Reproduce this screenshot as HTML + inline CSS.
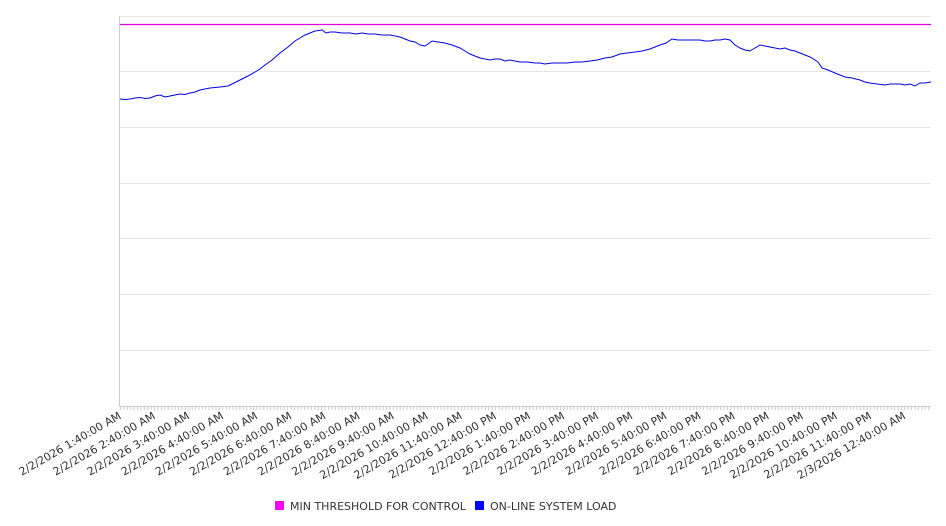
<!DOCTYPE html><html><head><style>body{margin:0;background:#fff}svg{display:block;font-family:"DejaVu Sans","Liberation Sans",sans-serif}</style></head><body>
<svg width="946" height="526" xmlns="http://www.w3.org/2000/svg">
<defs><pattern id="tk" x="120" y="406" width="3.41" height="4" patternUnits="userSpaceOnUse"><rect x="0" y="0" width="1" height="4" fill="#ccc"/></pattern></defs>
<g stroke="#e6e6e6" stroke-width="1">
<line x1="120" y1="16.5" x2="931" y2="16.5"/><line x1="120" y1="71.5" x2="931" y2="71.5"/><line x1="120" y1="127.5" x2="931" y2="127.5"/><line x1="120" y1="183.5" x2="931" y2="183.5"/><line x1="120" y1="238.5" x2="931" y2="238.5"/><line x1="120" y1="294.5" x2="931" y2="294.5"/><line x1="120" y1="350.5" x2="931" y2="350.5"/>
</g>
<line x1="119.5" y1="16" x2="119.5" y2="407" stroke="#ccc"/>
<line x1="120" y1="406.5" x2="931" y2="406.5" stroke="#ccc"/>
<rect x="120" y="406" width="811" height="4" fill="url(#tk)"/>
<line x1="120" y1="24.5" x2="931" y2="24.5" stroke="#e000e0" stroke-width="1.2"/>
<polyline fill="none" stroke="#0000dd" stroke-width="1" points="120,99 125,99.5 130,99 135,98 140,97.5 145,98.5 150,98 155,96 160,95 165,97 170,96 175,95 180,94 185,94.5 190,93 195,92 200,90 205,89 210,88 215,87.5 220,87 228,86 234,83 240,80 248,76 255,72 260,69 265,65 272,60 280,53 288,47 295,41 300,38 305,35 310,33 315,31 322,30 326,33 330,32 335,32 342,33 350,33 356,34 362,33 368,34 375,34 382,35 390,35 395,36 400,37 405,39 410,41 415,42 420,45 425,46 428,44 432,41 438,42 445,43 452,45 460,48 465,51 470,54 475,56 480,58 485,59 490,60 495,59 500,59 505,61 510,60 515,61 520,62 527,62 535,63 540,63 545,64 552,63 560,63 567,63 575,62 582,62 590,61 597,60 605,58 612,57 620,54 627,53 635,52 642,51 650,49 655,47 660,45 666,43 672,39 678,40 685,40 692,40 700,40 705,41 710,41 715,40 720,40 725,39 730,40 735,45 740,48 745,50 750,51 755,48 760,45 765,46 770,47 775,48 780,49 785,48 790,50 795,51 800,53 805,55 810,57 815,60 818,62 822,68 828,70 835,73 840,75 845,77 852,78 860,80 865,82 870,83 877,84 885,85 890,84 895,84 900,84 905,85 910,84 915,86 920,83 925,83 931,82"/>
<g font-size="11" fill="#333" text-anchor="end">
<text transform="translate(122,418) rotate(-30)">2/2/2026 1:40:00 AM</text>
<text transform="translate(156.1,418) rotate(-30)">2/2/2026 2:40:00 AM</text>
<text transform="translate(190.2,418) rotate(-30)">2/2/2026 3:40:00 AM</text>
<text transform="translate(224.3,418) rotate(-30)">2/2/2026 4:40:00 AM</text>
<text transform="translate(258.4,418) rotate(-30)">2/2/2026 5:40:00 AM</text>
<text transform="translate(292.5,418) rotate(-30)">2/2/2026 6:40:00 AM</text>
<text transform="translate(326.6,418) rotate(-30)">2/2/2026 7:40:00 AM</text>
<text transform="translate(360.7,418) rotate(-30)">2/2/2026 8:40:00 AM</text>
<text transform="translate(394.8,418) rotate(-30)">2/2/2026 9:40:00 AM</text>
<text transform="translate(428.9,418) rotate(-30)">2/2/2026 10:40:00 AM</text>
<text transform="translate(463,418) rotate(-30)">2/2/2026 11:40:00 AM</text>
<text transform="translate(497.1,418) rotate(-30)">2/2/2026 12:40:00 PM</text>
<text transform="translate(531.2,418) rotate(-30)">2/2/2026 1:40:00 PM</text>
<text transform="translate(565.3,418) rotate(-30)">2/2/2026 2:40:00 PM</text>
<text transform="translate(599.4,418) rotate(-30)">2/2/2026 3:40:00 PM</text>
<text transform="translate(633.5,418) rotate(-30)">2/2/2026 4:40:00 PM</text>
<text transform="translate(667.6,418) rotate(-30)">2/2/2026 5:40:00 PM</text>
<text transform="translate(701.7,418) rotate(-30)">2/2/2026 6:40:00 PM</text>
<text transform="translate(735.8,418) rotate(-30)">2/2/2026 7:40:00 PM</text>
<text transform="translate(769.9,418) rotate(-30)">2/2/2026 8:40:00 PM</text>
<text transform="translate(804,418) rotate(-30)">2/2/2026 9:40:00 PM</text>
<text transform="translate(838.1,418) rotate(-30)">2/2/2026 10:40:00 PM</text>
<text transform="translate(872.2,418) rotate(-30)">2/2/2026 11:40:00 PM</text>
<text transform="translate(906.3,418) rotate(-30)">2/3/2026 12:40:00 AM</text>
</g>
<rect x="275" y="501" width="9" height="9" fill="#ff00ff"/>
<text x="290" y="510" font-size="11" fill="#333">MIN THRESHOLD FOR CONTROL</text>
<rect x="475" y="501" width="9" height="9" fill="#0000ff"/>
<text x="490" y="510" font-size="11" fill="#333">ON-LINE SYSTEM LOAD</text>
</svg></body></html>
